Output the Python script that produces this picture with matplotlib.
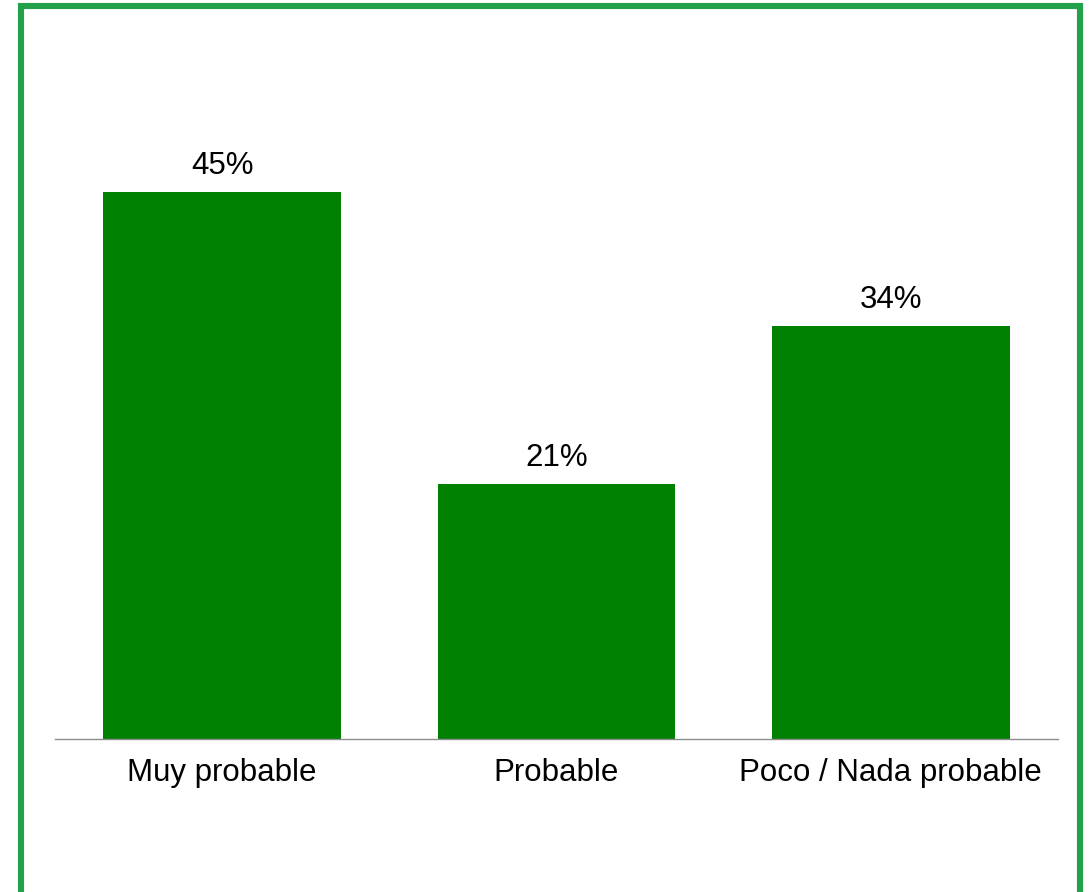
import matplotlib
matplotlib.use("Agg")
import matplotlib.pyplot as plt
from matplotlib.lines import Line2D

# ── Data ─────────────────────────────────────────────
categories = ["Muy probable", "Probable", "Poco / Nada probable"]
values = [45, 21, 34]
value_labels = ["45%", "21%", "34%"]

plt.rcParams["font.family"] = ["Liberation Sans", "DejaVu Sans"]

W, H = 1089, 892
fig = plt.figure(figsize=(W / 100, H / 100), dpi=100, facecolor="white")
ax = fig.add_axes([55 / W, 1 - 739 / H, (1058 - 55) / W, 639 / H])

x = list(range(len(categories)))
bars = ax.bar(x, values, width=0.71, color="#008000")

for rect, lab in zip(bars, value_labels):
    ax.annotate(
        lab,
        (rect.get_x() + rect.get_width() / 2, rect.get_height()),
        xytext=(0, 8),
        textcoords="offset points",
        ha="center",
        va="bottom",
        fontsize=22.5,
        color="black",
    )

ax.set_xlim(-0.5, 2.5)
ax.set_ylim(0, 52.6)
ax.set_xticks(x)
ax.set_xticklabels(categories, fontsize=22.5)
ax.tick_params(axis="x", length=0, pad=13.5)
ax.set_yticks([])

for side in ["top", "right", "left"]:
    ax.spines[side].set_visible(False)
ax.spines["bottom"].set_color("#8c8c8c")
ax.spines["bottom"].set_linewidth(1.0)

# green frame (left, top, right)
xs = [21 / W, 21 / W, 1079.5 / W, 1079.5 / W]
ys = [-0.05, 1 - 6 / H, 1 - 6 / H, -0.05]
fig.add_artist(Line2D(xs, ys, transform=fig.transFigure, color="#23a04a",
                      linewidth=4.4, solid_joinstyle="miter"))

fig.savefig("out.png", dpi=100, facecolor="white")
